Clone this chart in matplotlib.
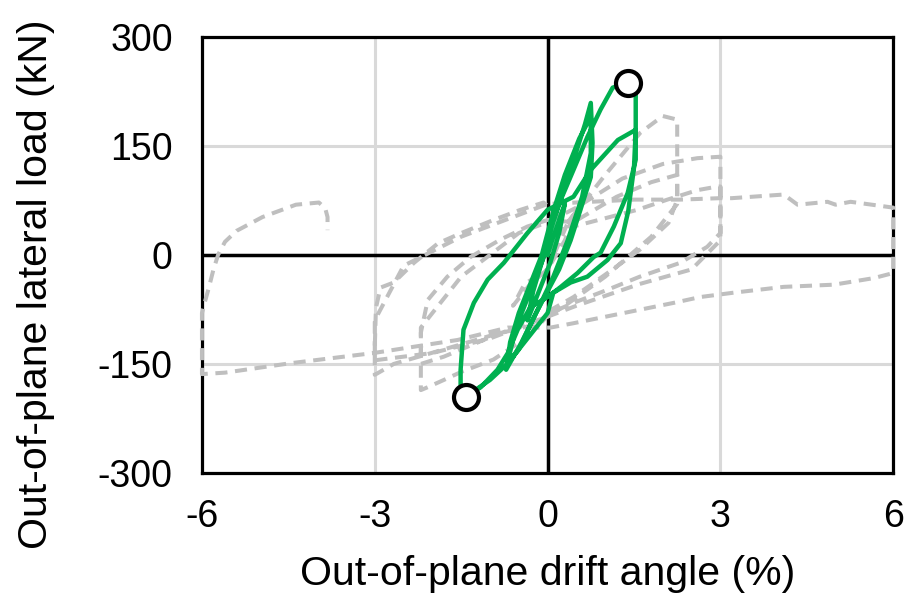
import matplotlib.pyplot as plt
import numpy as np

plt.rcParams['font.family'] = ['Liberation Sans', 'DejaVu Sans']
plt.rcParams['axes.unicode_minus'] = False

# Reference specimen (grey dashed) - drift angle (%) and load (kN)
ref_drift = [0.0, 0.2, 0.5, 0.3, 0.0, -0.3, -0.6, -0.4, 0.0,
             0.35, 1.0, 1.61, 2.0, 2.25, 2.25, 2.1, 1.6, 1.04, 0.45, 0.05,
             -0.35, -0.94, -1.5, -1.8, -2.08, -2.2, -2.2, -2.08, -1.74, -1.34, -0.82, -0.35, 0.0,
             0.45, 1.2, 1.8, 2.25, 2.25, 1.8, 1.0, 0.3, 0.0,
             -0.9, -1.8, -2.2, -2.2, -1.5, -0.5, 0.0,
             0.5, 1.3, 2.0, 2.6, 3.0, 3.0, 2.77, 2.3, 1.6, 1.04, 0.45, 0.05,
             -0.12, -0.94, -1.8, -2.67, -3.0, -3.0, -2.98, -2.9, -2.67, -2.32, -1.9, -1.5, -0.94, -0.47, -0.07,
             0.45, 1.56, 2.08, 2.6, 2.95, 3.0, 3.0, 2.5, 1.6, 0.5, 0.0,
             -1.0, -2.0, -3.0, -3.0, -2.5, -1.5, -0.5, 0.0,
             0.5, 1.5, 2.3, 3.0, 3.2, 4.1, 4.34, 4.86, 5.0, 5.26, 6.0, 6.0,
             5.66, 4.97, 4.1, 3.23, 2.65, 2.19, 1.32, 0.45, 0.05,
             -0.69, -1.56, -3.02, -4.46, -5.6, -6.0, -6.0, -5.95, -5.88, -5.8, -5.72, -5.6, -5.4,
             -4.95, -4.37, -3.97, -3.86, -3.82, -3.82]
ref_load = [0, 30, 60, 20, -20, -40, -70, -40, -20,
            44, 110, 168, 191, 186, 76, 44, 7, -25, -58, -76,
            -113, -144, -161, -172, -182, -186, -107, -62, -30, -3, 21, 39, 48,
            45, 80, 100, 110, 70, 25, -30, -70, -85,
            -110, -140, -150, -100, -30, 30, 45,
            65, 105, 125, 133, 135, 30, 11, -11, -30, -48, -66, -80,
            -94, -110, -130, -150, -165, -127, -73, -45, -38, -11, 16, 30, 48, 62, 72,
            39, 62, 76, 89, 94, 94, 20, -20, -40, -70, -85,
            -115, -135, -145, -90, -15, 25, 55, 70,
            72, 76, 76, 78, 78, 83, 69, 73, 69, 73, 65, -25,
            -32, -41, -44, -52, -58, -66, -80, -94, -100,
            -100, -117, -135, -149, -162, -164, -80, -65, -45, -20, 0, 18, 33,
            52, 69, 72, 64, 52, 34]

# Tested specimen (green)
test_drift = [0.0, 0.1, 0.25, 0.3, 0.2, 0.05, -0.1, -0.3, -0.35, -0.25, -0.1, 0.0,
              0.2, 0.45, 0.65, 0.75, 0.78, 0.75, 0.57, 0.4, 0.2, 0.0,
              -0.2, -0.45, -0.72, -0.65, -0.5, -0.3, -0.1, 0.0, 0.1,
              0.3, 0.55, 0.75, 0.75, 0.6, 0.35, 0.1, -0.2, -0.5, -0.7, -0.55, -0.3, 0.0,
              0.05, 0.23, 0.45, 0.69, 0.92, 1.13, 1.39, 1.53, 1.53, 1.53, 1.39, 1.15, 0.92, 0.8, 0.52, 0.23, 0.0,
              -0.3, -0.52, -0.69, -0.87, -1.16, -1.42, -1.51, -1.51, -1.46, -1.28, -1.04, -0.76, -0.35, 0.0,
              0.45, 0.75, 1.22, 1.53, 1.5, 1.4, 1.27, 1.04, 0.69, 0.4, 0.1, 0.0,
              -0.3, -0.7, -1.0, -1.42]
test_load = [0, 25, 60, 70, 30, -10, -40, -80, -90, -50, -10, 20,
             70, 130, 180, 209, 154, 107, 62, 20, -20, -50,
             -80, -120, -158, -120, -80, -40, 0, 30, 60,
             110, 160, 190, 140, 80, 20, -30, -80, -130, -150, -100, -50, 10,
             39, 76, 117, 162, 200, 230, 237, 225, 172, 131, 85, 39, 3, -3, -25, -44, -58,
             -72, -103, -135, -158, -182, -195, -180, -158, -103, -66, -34, -11, 30, 62,
             80, 117, 158, 172, 120, 60, 16, -7, -30, -38, -52, -80,
             -110, -150, -172, -195]

peak_drift = [1.39, -1.42]
peak_load = [237, -195]

fig, ax = plt.subplots(figsize=(9.18, 5.93), dpi=100)
plt.subplots_adjust(left=0.22, right=0.973, top=0.938, bottom=0.2024)

ax.plot(ref_drift, ref_load, color='#BFBFBF', lw=2.9, ls=(0, (3.0, 1.9)),
        zorder=3, clip_on=False)
ax.plot(test_drift, test_load, color='#00B050', lw=3.2, zorder=4)
ax.plot(peak_drift, peak_load, 'o', ms=18, mfc='white', mec='black', mew=3.0, zorder=5)

ax.axhline(0, color='black', lw=2.5, zorder=2)
ax.axvline(0, color='black', lw=2.5, zorder=2)

ax.set_xlim(-6, 6)
ax.set_ylim(-300, 300)
ax.set_xticks([-6, -3, 0, 3, 6])
ax.set_yticks([-300, -150, 0, 150, 300])
ax.grid(True, color='#D9D9D9', lw=2.2, zorder=0)
ax.set_axisbelow(True)
ax.tick_params(length=0, labelsize=27)
ax.tick_params(axis='x', pad=19)
ax.tick_params(axis='y', pad=21)
for s in ax.spines.values():
    s.set_linewidth(2.3)
    s.set_color('black')

ax.set_xlabel('Out-of-plane drift angle (%)', fontsize=29.5, labelpad=14)
ax.set_ylabel('Out-of-plane lateral load (kN)', fontsize=29.5)
ax.yaxis.set_label_coords(-0.213, 0.433)

plt.savefig('out.png', dpi=100)
